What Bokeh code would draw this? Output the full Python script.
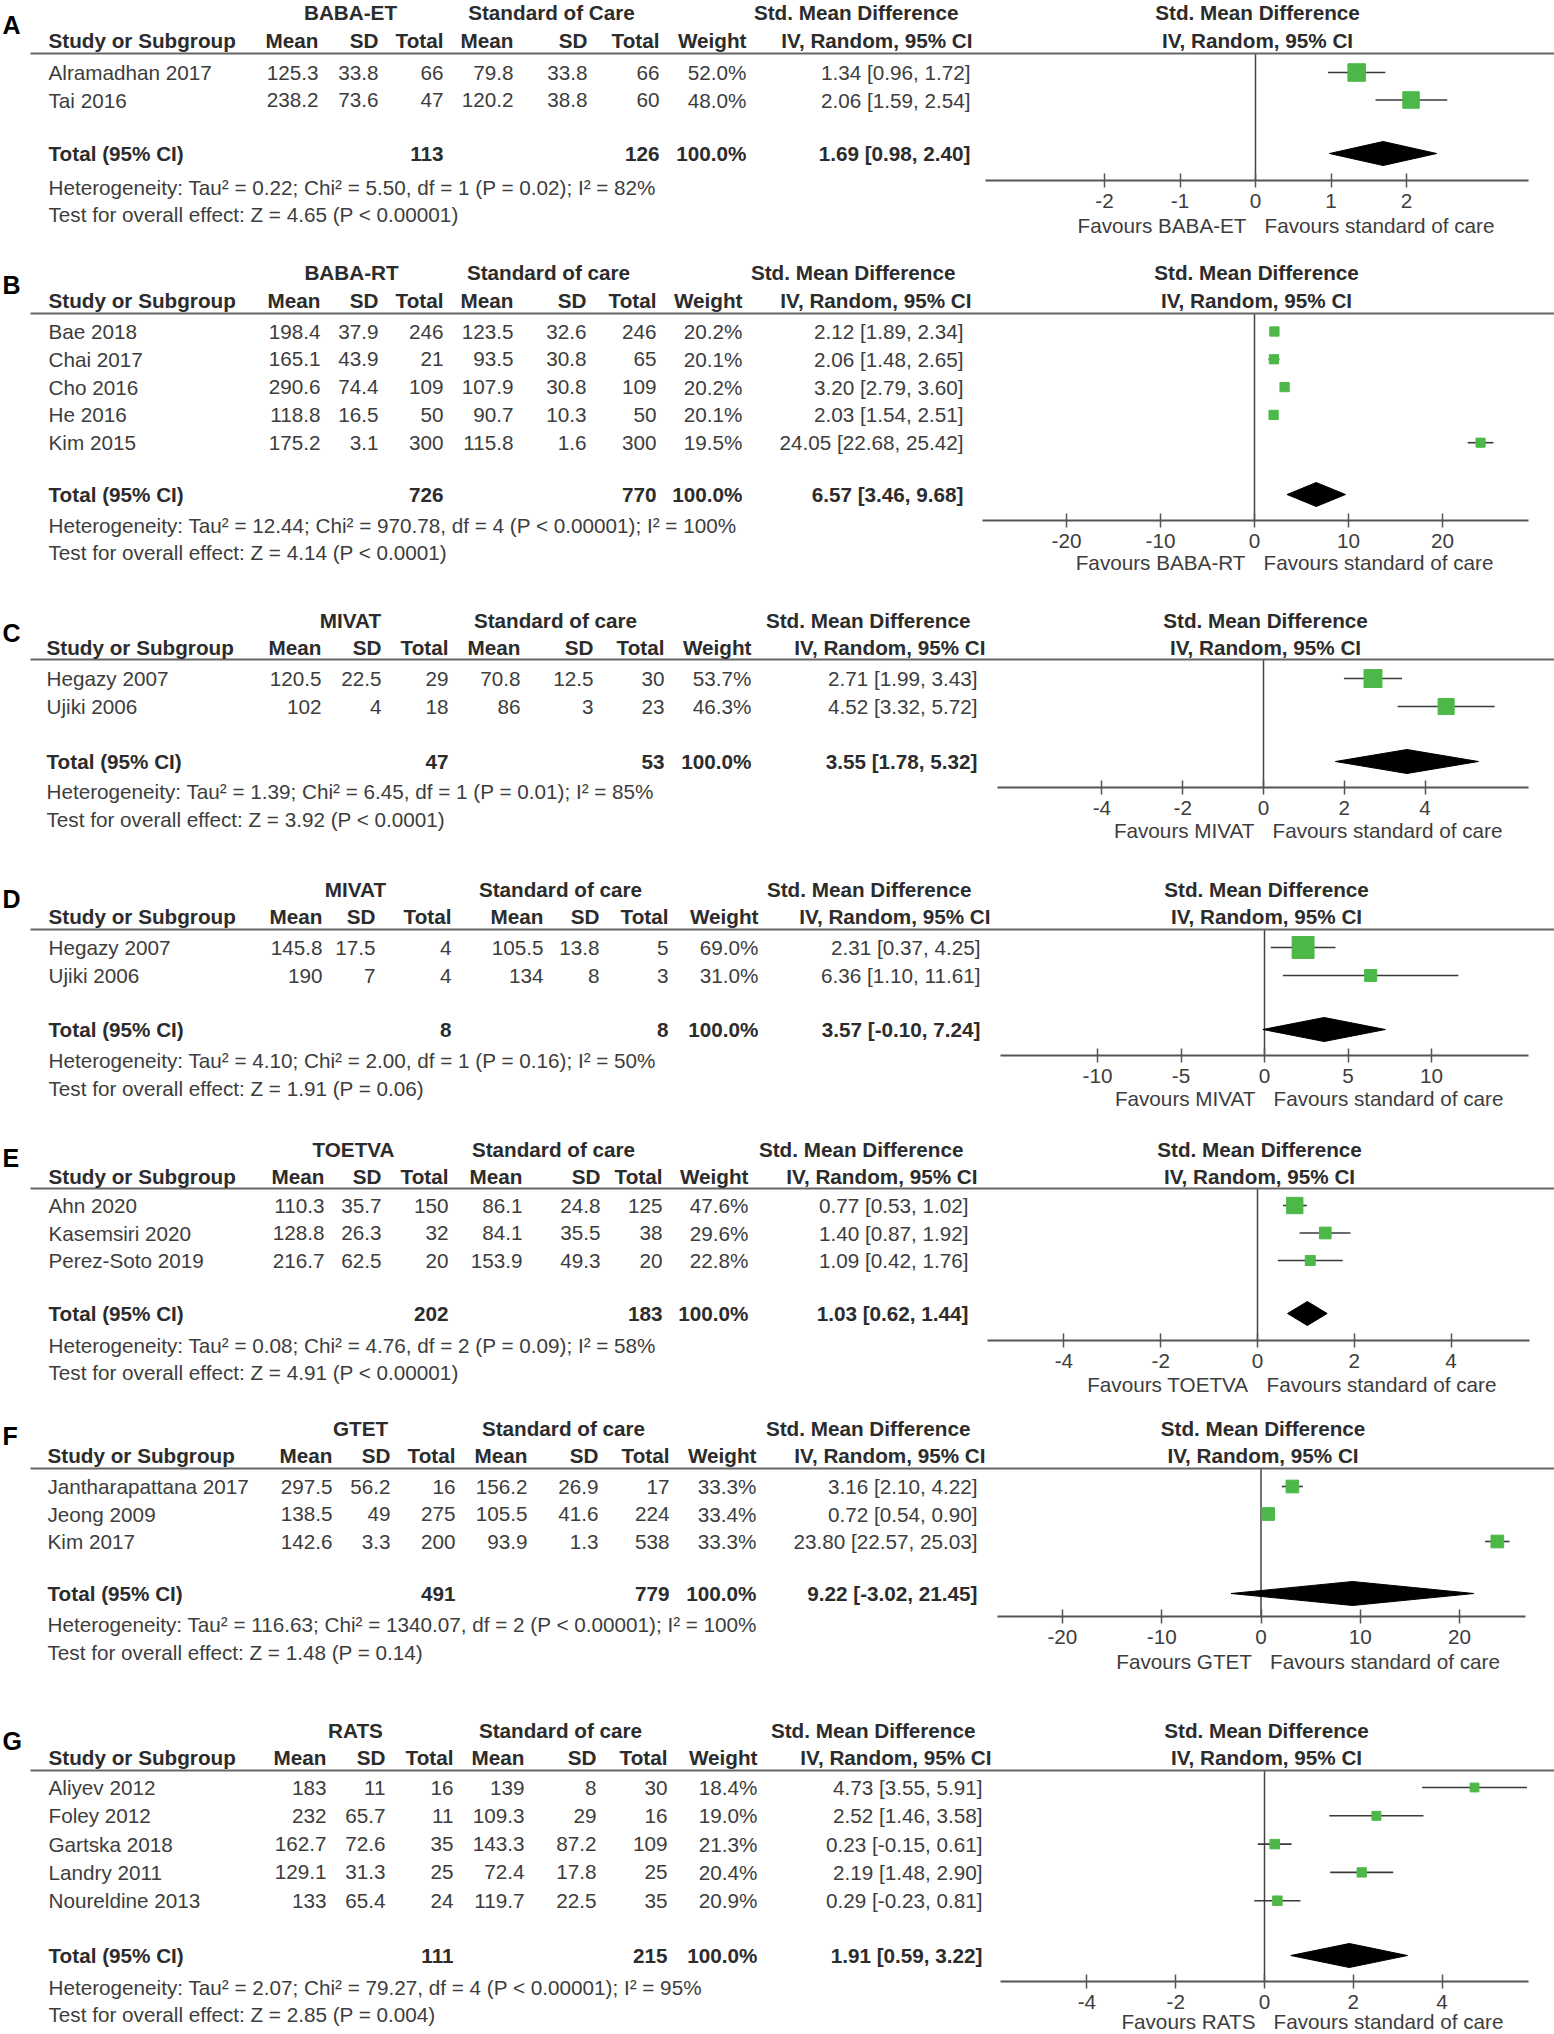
from bokeh.plotting import figure
from bokeh.models import Range1d, LinearAxis, FixedTicker, ColumnDataSource, CustomJSTickFormatter
from bokeh.core.properties import value
from bokeh.embed import file_html
from bokeh.resources import INLINE

# ------------------------------------------------------------------ data
# Panel A
a_group = "BABA-ET"
a_control = "Standard of Care"
a_study = ["Alramadhan 2017", "Tai 2016"]
a_exp_mean = [125.3, 238.2]
a_exp_sd = [33.8, 73.6]
a_exp_n = [66, 47]
a_ctl_mean = [79.8, 120.2]
a_ctl_sd = [33.8, 38.8]
a_ctl_n = [66, 60]
a_weight = [52.0, 48.0]
a_smd = [1.34, 2.06]
a_lo = [0.96, 1.59]
a_hi = [1.72, 2.54]
a_total_n = [113, 126]
a_pooled = [1.69, 0.98, 2.40]
a_het = "Heterogeneity: Tau\u00b2 = 0.22; Chi\u00b2 = 5.50, df = 1 (P = 0.02); I\u00b2 = 82%"
a_test = "Test for overall effect: Z = 4.65 (P < 0.00001)"
a_ticks = [-2, -1, 0, 1, 2]

# Panel B
b_group = "BABA-RT"
b_control = "Standard of care"
b_study = ["Bae 2018", "Chai 2017", "Cho 2016", "He 2016", "Kim 2015"]
b_exp_mean = [198.4, 165.1, 290.6, 118.8, 175.2]
b_exp_sd = [37.9, 43.9, 74.4, 16.5, 3.1]
b_exp_n = [246, 21, 109, 50, 300]
b_ctl_mean = [123.5, 93.5, 107.9, 90.7, 115.8]
b_ctl_sd = [32.6, 30.8, 30.8, 10.3, 1.6]
b_ctl_n = [246, 65, 109, 50, 300]
b_weight = [20.2, 20.1, 20.2, 20.1, 19.5]
b_smd = [2.12, 2.06, 3.20, 2.03, 24.05]
b_lo = [1.89, 1.48, 2.79, 1.54, 22.68]
b_hi = [2.34, 2.65, 3.60, 2.51, 25.42]
b_total_n = [726, 770]
b_pooled = [6.57, 3.46, 9.68]
b_het = "Heterogeneity: Tau\u00b2 = 12.44; Chi\u00b2 = 970.78, df = 4 (P < 0.00001); I\u00b2 = 100%"
b_test = "Test for overall effect: Z = 4.14 (P < 0.0001)"
b_ticks = [-20, -10, 0, 10, 20]

# Panel C
c_group = "MIVAT"
c_control = "Standard of care"
c_study = ["Hegazy 2007", "Ujiki 2006"]
c_exp_mean = [120.5, 102]
c_exp_sd = [22.5, 4]
c_exp_n = [29, 18]
c_ctl_mean = [70.8, 86]
c_ctl_sd = [12.5, 3]
c_ctl_n = [30, 23]
c_weight = [53.7, 46.3]
c_smd = [2.71, 4.52]
c_lo = [1.99, 3.32]
c_hi = [3.43, 5.72]
c_total_n = [47, 53]
c_pooled = [3.55, 1.78, 5.32]
c_het = "Heterogeneity: Tau\u00b2 = 1.39; Chi\u00b2 = 6.45, df = 1 (P = 0.01); I\u00b2 = 85%"
c_test = "Test for overall effect: Z = 3.92 (P < 0.0001)"
c_ticks = [-4, -2, 0, 2, 4]

# Panel D
d_group = "MIVAT"
d_control = "Standard of care"
d_study = ["Hegazy 2007", "Ujiki 2006"]
d_exp_mean = [145.8, 190]
d_exp_sd = [17.5, 7]
d_exp_n = [4, 4]
d_ctl_mean = [105.5, 134]
d_ctl_sd = [13.8, 8]
d_ctl_n = [5, 3]
d_weight = [69.0, 31.0]
d_smd = [2.31, 6.36]
d_lo = [0.37, 1.10]
d_hi = [4.25, 11.61]
d_total_n = [8, 8]
d_pooled = [3.57, -0.10, 7.24]
d_het = "Heterogeneity: Tau\u00b2 = 4.10; Chi\u00b2 = 2.00, df = 1 (P = 0.16); I\u00b2 = 50%"
d_test = "Test for overall effect: Z = 1.91 (P = 0.06)"
d_ticks = [-10, -5, 0, 5, 10]

# Panel E
e_group = "TOETVA"
e_control = "Standard of care"
e_study = ["Ahn 2020", "Kasemsiri 2020", "Perez-Soto 2019"]
e_exp_mean = [110.3, 128.8, 216.7]
e_exp_sd = [35.7, 26.3, 62.5]
e_exp_n = [150, 32, 20]
e_ctl_mean = [86.1, 84.1, 153.9]
e_ctl_sd = [24.8, 35.5, 49.3]
e_ctl_n = [125, 38, 20]
e_weight = [47.6, 29.6, 22.8]
e_smd = [0.77, 1.40, 1.09]
e_lo = [0.53, 0.87, 0.42]
e_hi = [1.02, 1.92, 1.76]
e_total_n = [202, 183]
e_pooled = [1.03, 0.62, 1.44]
e_het = "Heterogeneity: Tau\u00b2 = 0.08; Chi\u00b2 = 4.76, df = 2 (P = 0.09); I\u00b2 = 58%"
e_test = "Test for overall effect: Z = 4.91 (P < 0.00001)"
e_ticks = [-4, -2, 0, 2, 4]

# Panel F
f_group = "GTET"
f_control = "Standard of care"
f_study = ["Jantharapattana 2017", "Jeong 2009", "Kim 2017"]
f_exp_mean = [297.5, 138.5, 142.6]
f_exp_sd = [56.2, 49, 3.3]
f_exp_n = [16, 275, 200]
f_ctl_mean = [156.2, 105.5, 93.9]
f_ctl_sd = [26.9, 41.6, 1.3]
f_ctl_n = [17, 224, 538]
f_weight = [33.3, 33.4, 33.3]
f_smd = [3.16, 0.72, 23.80]
f_lo = [2.10, 0.54, 22.57]
f_hi = [4.22, 0.90, 25.03]
f_total_n = [491, 779]
f_pooled = [9.22, -3.02, 21.45]
f_het = "Heterogeneity: Tau\u00b2 = 116.63; Chi\u00b2 = 1340.07, df = 2 (P < 0.00001); I\u00b2 = 100%"
f_test = "Test for overall effect: Z = 1.48 (P = 0.14)"
f_ticks = [-20, -10, 0, 10, 20]

# Panel G
g_group = "RATS"
g_control = "Standard of care"
g_study = ["Aliyev 2012", "Foley 2012", "Gartska 2018", "Landry 2011", "Noureldine 2013"]
g_exp_mean = [183, 232, 162.7, 129.1, 133]
g_exp_sd = [11, 65.7, 72.6, 31.3, 65.4]
g_exp_n = [16, 11, 35, 25, 24]
g_ctl_mean = [139, 109.3, 143.3, 72.4, 119.7]
g_ctl_sd = [8, 29, 87.2, 17.8, 22.5]
g_ctl_n = [30, 16, 109, 25, 35]
g_weight = [18.4, 19.0, 21.3, 20.4, 20.9]
g_smd = [4.73, 2.52, 0.23, 2.19, 0.29]
g_lo = [3.55, 1.46, -0.15, 1.48, -0.23]
g_hi = [5.91, 3.58, 0.61, 2.90, 0.81]
g_total_n = [111, 215]
g_pooled = [1.91, 0.59, 3.22]
g_het = "Heterogeneity: Tau\u00b2 = 2.07; Chi\u00b2 = 79.27, df = 4 (P < 0.00001); I\u00b2 = 95%"
g_test = "Test for overall effect: Z = 2.85 (P = 0.004)"
g_ticks = [-4, -2, 0, 2, 4]

col_labels = ["Mean", "SD", "Total", "Mean", "SD", "Total", "Weight"]

# ------------------------------------------------------------------ layout (page pixels)
LAYOUT = {
    "A": dict(label_y=24, h1=12, h2=40, line=53, row0=72, dy=27.5, total=153, het=187, test=214,
              sx=48, cols=[318, 378, 443, 513, 587, 659, 746], exp_c=350, ctl_c=551,
              smd1_r=958, smd2_r=972, ci_r=970, z=1255, ppu=75.5, ax0=985, ax1=1528, axy=180, fav=225),
    "B": dict(label_y=284, h1=272, h2=300, line=313, row0=331, dy=27.8, total=494, het=525, test=552,
              sx=48, cols=[320, 378, 443, 513, 586, 656, 742], exp_c=351, ctl_c=548,
              smd1_r=955, smd2_r=971, ci_r=963, z=1254, ppu=9.4, ax0=982, ax1=1528, axy=520, fav=562),
    "C": dict(label_y=632, h1=620, h2=647, line=659, row0=678, dy=28, total=761, het=791, test=819,
              sx=46, cols=[321, 381, 448, 520, 593, 664, 751], exp_c=350, ctl_c=555,
              smd1_r=970, smd2_r=985, ci_r=977, z=1263, ppu=40.4, ax0=997, ax1=1528, axy=787, fav=830),
    "D": dict(label_y=898, h1=889, h2=916, line=929, row0=947, dy=28, total=1029, het=1060, test=1088,
              sx=48, cols=[322, 375, 451, 543, 599, 668, 758], exp_c=355, ctl_c=560,
              smd1_r=971, smd2_r=990, ci_r=980, z=1264, ppu=16.7, ax0=1000, ax1=1528, axy=1055, fav=1098),
    "E": dict(label_y=1157, h1=1149, h2=1176, line=1188, row0=1205, dy=27.5, total=1313, het=1345, test=1372,
              sx=48, cols=[324, 381, 448, 522, 600, 662, 748], exp_c=353, ctl_c=553,
              smd1_r=963, smd2_r=977, ci_r=968, z=1257, ppu=48.4, ax0=987, ax1=1529, axy=1340, fav=1384),
    "F": dict(label_y=1435, h1=1428, h2=1455, line=1468, row0=1486, dy=27.5, total=1593, het=1624, test=1652,
              sx=47, cols=[332, 390, 455, 527, 598, 669, 756], exp_c=360, ctl_c=563,
              smd1_r=970, smd2_r=985, ci_r=977, z=1260.5, ppu=9.93, ax0=997, ax1=1525, axy=1616, fav=1661),
    "G": dict(label_y=1740, h1=1730, h2=1757, line=1770, row0=1787, dy=28.3, total=1955, het=1987, test=2014,
              sx=48, cols=[326, 385, 453, 524, 596, 667, 757], exp_c=355, ctl_c=560,
              smd1_r=975, smd2_r=991, ci_r=982, z=1264, ppu=44.4, ax0=1000, ax1=1528, axy=1981, fav=2021),
}

panels = [
    dict(letter="A", group=a_group, control=a_control, study=a_study, em=a_exp_mean, es=a_exp_sd, en=a_exp_n,
         cm=a_ctl_mean, cs=a_ctl_sd, cn=a_ctl_n, w=a_weight, smd=a_smd, lo=a_lo, hi=a_hi,
         tn=a_total_n, pooled=a_pooled, het=a_het, test=a_test, ticks=a_ticks),
    dict(letter="B", group=b_group, control=b_control, study=b_study, em=b_exp_mean, es=b_exp_sd, en=b_exp_n,
         cm=b_ctl_mean, cs=b_ctl_sd, cn=b_ctl_n, w=b_weight, smd=b_smd, lo=b_lo, hi=b_hi,
         tn=b_total_n, pooled=b_pooled, het=b_het, test=b_test, ticks=b_ticks),
    dict(letter="C", group=c_group, control=c_control, study=c_study, em=c_exp_mean, es=c_exp_sd, en=c_exp_n,
         cm=c_ctl_mean, cs=c_ctl_sd, cn=c_ctl_n, w=c_weight, smd=c_smd, lo=c_lo, hi=c_hi,
         tn=c_total_n, pooled=c_pooled, het=c_het, test=c_test, ticks=c_ticks),
    dict(letter="D", group=d_group, control=d_control, study=d_study, em=d_exp_mean, es=d_exp_sd, en=d_exp_n,
         cm=d_ctl_mean, cs=d_ctl_sd, cn=d_ctl_n, w=d_weight, smd=d_smd, lo=d_lo, hi=d_hi,
         tn=d_total_n, pooled=d_pooled, het=d_het, test=d_test, ticks=d_ticks),
    dict(letter="E", group=e_group, control=e_control, study=e_study, em=e_exp_mean, es=e_exp_sd, en=e_exp_n,
         cm=e_ctl_mean, cs=e_ctl_sd, cn=e_ctl_n, w=e_weight, smd=e_smd, lo=e_lo, hi=e_hi,
         tn=e_total_n, pooled=e_pooled, het=e_het, test=e_test, ticks=e_ticks),
    dict(letter="F", group=f_group, control=f_control, study=f_study, em=f_exp_mean, es=f_exp_sd, en=f_exp_n,
         cm=f_ctl_mean, cs=f_ctl_sd, cn=f_ctl_n, w=f_weight, smd=f_smd, lo=f_lo, hi=f_hi,
         tn=f_total_n, pooled=f_pooled, het=f_het, test=f_test, ticks=f_ticks),
    dict(letter="G", group=g_group, control=g_control, study=g_study, em=g_exp_mean, es=g_exp_sd, en=g_exp_n,
         cm=g_ctl_mean, cs=g_ctl_sd, cn=g_ctl_n, w=g_weight, smd=g_smd, lo=g_lo, hi=g_hi,
         tn=g_total_n, pooled=g_pooled, het=g_het, test=g_test, ticks=g_ticks),
]

# ------------------------------------------------------------------ styles
FONT = "Liberation Sans"
FS = "20.7px"
TXT = "#3d3d3d"
HDR = "#2c2c2c"
GREEN = "#4cb848"
CI_COL = "#3a3a3a"
AX_COL = "#555555"

W, H = 1554, 2034
p = figure(frame_width=W, frame_height=H, x_range=Range1d(0, W), y_range=Range1d(H, 0),
           output_backend="svg", toolbar_location=None, x_axis_location=None, y_axis_location=None,
           min_border=0, outline_line_color=None, background_fill_color="white")
for r in list(p.center):
    r.visible = False

texts = {}


def put(x, y, s, align="left", bold=False, size=FS, color=TXT):
    key = (align, bold, size, color)
    d = texts.setdefault(key, {"x": [], "y": [], "t": []})
    d["x"].append(x)
    d["y"].append(y)
    d["t"].append(s)


def fnum(v):
    return f"{v:g}"


def fci(e, l, h):
    return f"{e:.2f} [{l:.2f}, {h:.2f}]"


hl_x0, hl_x1, hl_y = [], [], []

for P in panels:
    L = LAYOUT[P["letter"]]
    n = len(P["study"])
    ys = [L["row0"] + i * L["dy"] for i in range(n)]

    put(2, L["label_y"], P["letter"], "left", True, "25px", "#000000")
    # header row 1
    put(L["exp_c"], L["h1"], P["group"], "center", True, FS, HDR)
    put(L["ctl_c"], L["h1"], P["control"], "center", True, FS, HDR)
    put(L["smd1_r"], L["h1"], "Std. Mean Difference", "right", True, FS, HDR)
    put(L["z"] + 2, L["h1"], "Std. Mean Difference", "center", True, FS, HDR)
    # header row 2
    put(L["sx"], L["h2"], "Study or Subgroup", "left", True, FS, HDR)
    for cx, lab in zip(L["cols"], col_labels):
        put(cx, L["h2"], lab, "right", True, FS, HDR)
    put(L["smd2_r"], L["h2"], "IV, Random, 95% CI", "right", True, FS, HDR)
    put(L["z"] + 2, L["h2"], "IV, Random, 95% CI", "center", True, FS, HDR)
    hl_x0.append(30); hl_x1.append(W); hl_y.append(L["line"])

    # study rows
    for i in range(n):
        y = ys[i]
        put(L["sx"], y, P["study"][i])
        vals = [fnum(P["em"][i]), fnum(P["es"][i]), str(P["en"][i]),
                fnum(P["cm"][i]), fnum(P["cs"][i]), str(P["cn"][i]), f"{P['w'][i]:.1f}%"]
        for cx, s in zip(L["cols"], vals):
            put(cx, y, s, "right")
        put(L["ci_r"], y, fci(P["smd"][i], P["lo"][i], P["hi"][i]), "right")

    # total row
    put(L["sx"], L["total"], "Total (95% CI)", "left", True, FS, HDR)
    put(L["cols"][2], L["total"], str(P["tn"][0]), "right", True, FS, HDR)
    put(L["cols"][5], L["total"], str(P["tn"][1]), "right", True, FS, HDR)
    put(L["cols"][6], L["total"], "100.0%", "right", True, FS, HDR)
    put(L["ci_r"], L["total"], fci(*P["pooled"]), "right", True, FS, HDR)
    put(L["sx"], L["het"], P["het"])
    put(L["sx"], L["test"], P["test"])

    # forest plot on its own effect-size scale
    rn = "f" + P["letter"]
    z, s = L["z"], L["ppu"]
    p.extra_x_ranges[rn] = Range1d((0 - z) / s, (W - z) / s)

    p.segment(x0=[0], x1=[0], y0=[L["line"]], y1=[L["axy"]], x_range_name=rn,
              line_color="#444444", line_width=1.5)
    p.segment(x0=P["lo"], x1=P["hi"], y0=ys, y1=ys, x_range_name=rn,
              line_color=CI_COL, line_width=1.6)
    sizes = [4 + 0.26 * wt for wt in P["w"]]
    p.scatter(x=P["smd"], y=ys, size=sizes, marker="square", x_range_name=rn,
              fill_color=GREEN, line_color=GREEN)
    est, lo, hi = P["pooled"]
    ty = L["total"]
    p.patch(x=[lo, est, hi, est], y=[ty, ty - 12, ty, ty + 12], x_range_name=rn,
            fill_color="black", line_color="black")

    ax = LinearAxis(x_range_name=rn, fixed_location=L["axy"],
                    bounds=((L["ax0"] - z) / s, (L["ax1"] - z) / s),
                    ticker=FixedTicker(ticks=P["ticks"]),
                    formatter=CustomJSTickFormatter(code="return tick.toFixed(0);"))
    ax.axis_line_color = AX_COL
    ax.axis_line_width = 2
    ax.major_tick_in = 7
    ax.major_tick_out = 7
    ax.major_tick_line_color = AX_COL
    ax.major_tick_line_width = 1.5
    ax.minor_tick_line_color = None
    ax.major_label_text_font = FONT
    ax.major_label_text_font_size = FS
    ax.major_label_text_color = TXT
    ax.major_label_standoff = 6
    p.add_layout(ax, "below")

    p.text(x=[0], y=[L["fav"]], text=["Favours " + P["group"]], x_range_name=rn, x_offset=-9,
           text_align="right", text_baseline="middle", text_font=value(FONT),
           text_font_size=FS, text_color=TXT)
    p.text(x=[0], y=[L["fav"]], text=["Favours standard of care"], x_range_name=rn, x_offset=9,
           text_align="left", text_baseline="middle", text_font=value(FONT),
           text_font_size=FS, text_color=TXT)

p.segment(x0=hl_x0, x1=hl_x1, y0=hl_y, y1=hl_y, line_color="#666666", line_width=2)

for (align, bold, size, color), d in texts.items():
    p.text(x="x", y="y", text="t", source=ColumnDataSource(d), text_align=align,
           text_baseline="middle", text_font=value(FONT), text_font_size=size,
           text_font_style="bold" if bold else "normal", text_color=color)

open("out.html", "w").write(file_html(p, INLINE))
